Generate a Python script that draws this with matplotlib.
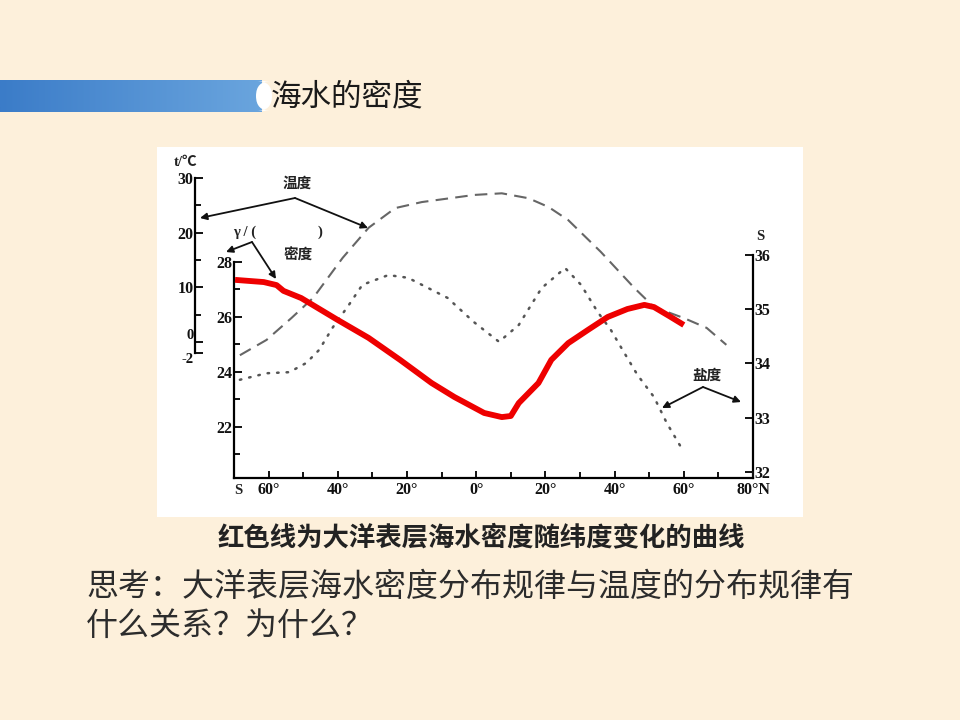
import numpy as np
import matplotlib.pyplot as plt
from matplotlib.patches import Rectangle, FancyBboxPatch
from matplotlib.colors import LinearSegmentedColormap
from matplotlib.ticker import FixedLocator

plt.rcParams['font.family'] = ['Noto Sans CJK SC', 'DejaVu Sans']

# Data (latitude in degrees, S negative)

dens_lat = [-69.7, -61.4, -57.7, -55.7, -50.6, -40.0, -31.1, -22.0, -12.9, -6.3,
            2.3, 7.4, 10.0, 12.3, 18.0, 21.7, 26.6, 32.3, 38.0, 43.7,
            48.6, 51.4, 55.7, 60.0]
dens_val = [27.35, 27.27, 27.16, 26.95, 26.69, 25.89, 25.24, 24.44, 23.60, 23.09,
            22.51, 22.36, 22.40, 22.87, 23.60, 24.44, 25.05, 25.53, 26.00, 26.29,
            26.44, 26.36, 26.04, 25.71]

temp_lat = [-68.3, -60.6, -53.4, -47.1, -38.6, -31.1, -23.4, -15.7, -0.6, 7.4,
            15.1, 20.9, 26.6, 36.0, 45.7, 51.4, 60.0, 66.6, 72.3]
temp_val = [-2.4, 0.4, 4.4, 8.1, 15.4, 20.9, 24.5, 25.6, 26.9, 27.2,
            26.3, 24.7, 22.3, 16.5, 9.9, 6.4, 4.4, 2.6, -0.5]

sal_lat = [-68.3, -60.6, -54.0, -49.1, -45.4, -41.4, -36.9, -32.9, -25.4, -19.7,
           -8.3, -0.6, 6.6, 12.3, 18.9, 25.7, 30.3, 35.1, 38.9, 42.3,
           46.6, 51.4, 55.1, 60.0]
sal_val = [33.70, 33.82, 33.84, 34.01, 34.25, 34.67, 35.07, 35.45, 35.63, 35.58,
           35.21, 34.76, 34.40, 34.71, 35.39, 35.76, 35.45, 34.95, 34.62, 34.25,
           33.79, 33.38, 32.90, 32.37]

x_ticks = [-60, -40, -20, 0, 20, 40, 60, 80]
x_labels = ["60°", "40°", "20°", "0°", "20°", "40°", "60°", "80°N"]
dens_ticks = [22, 24, 26, 28]
temp_ticks = [-2, 0, 10, 20, 30]
sal_ticks = [32, 33, 34, 35, 36]

title = "海水的密度"
caption = "红色线为大洋表层海水密度随纬度变化的曲线"
question = ["思考：大洋表层海水密度分布规律与温度的分布规律有", "什么关系？为什么？"]

W, H = 960, 720
bg = "#fdf0db"
fig = plt.figure(figsize=(W / 100, H / 100), dpi=100, facecolor=bg)

# Decoration layer in pixel coordinates
deco = fig.add_axes([0, 0, 1, 1], zorder=0)
deco.set_xlim(0, W)
deco.set_ylim(H, 0)
deco.axis("off")

grad = np.linspace(0, 1, 256).reshape(1, -1)
blue_cmap = LinearSegmentedColormap.from_list("bar", ["#3b7cc8", "#6aa5de"])
deco.imshow(grad, cmap=blue_cmap, extent=(0, 262, 112, 80), aspect="auto", zorder=1)
deco.add_patch(FancyBboxPatch((256, 81), 16, 30, boxstyle="round,pad=0,rounding_size=15",
                              fc="white", ec="none", zorder=2))
deco.text(271, 97, title, fontsize=22, va="center", ha="left", color="#1a1a1a", zorder=3)

deco.add_patch(Rectangle((157, 147), 646, 370, fc="white", ec="none", zorder=1))

deco.text(481, 538, caption, fontsize=19, ha="center", va="center", color="#222222",
          fontweight="bold")
deco.text(86, 587, question[0], fontsize=23, ha="left", va="center", color="#2c2c2c")
deco.text(86, 626, question[1], fontsize=23, ha="left", va="center", color="#2c2c2c")

# Axes geometry (pixels)
ax_l, ax_r, ax_b, ax_t = 234, 753, 478, 170
pos = [ax_l / W, 1 - ax_b / H, (ax_r - ax_l) / W, (ax_b - ax_t) / H]

num_font = dict(family=["Liberation Serif", "DejaVu Serif"], fontweight="bold", fontsize=11.5)

ax = fig.add_axes(pos, zorder=2)
ax.patch.set_alpha(0)
ax.set_xlim(-70, 80)
ax.set_ylim(20.145, 31.345)
for s in ["top", "right"]:
    ax.spines[s].set_visible(False)
ax.spines["left"].set_bounds(20.145, 28)
ax.spines["left"].set_linewidth(1.6)
ax.spines["bottom"].set_linewidth(1.6)
ax.set_xticks(x_ticks)
ax.set_xticklabels(x_labels, **num_font)
ax.xaxis.set_minor_locator(FixedLocator(list(range(-70, 81, 10))))
ax.set_yticks(dens_ticks)
ax.set_yticklabels([str(v) for v in dens_ticks], **num_font)
ax.yaxis.set_minor_locator(FixedLocator([21, 23, 25, 27]))
ax.tick_params(axis="both", which="both", direction="in", colors="#111111", width=1.4)
ax.tick_params(axis="x", which="major", length=5, pad=3)
ax.tick_params(axis="x", which="minor", length=4)
ax.tick_params(axis="y", which="major", length=6, pad=1)
ax.tick_params(axis="y", which="minor", length=4)
ax.plot(dens_lat, dens_val, color="#ee0000", lw=4.2, solid_capstyle="butt",
        solid_joinstyle="round", zorder=5)

axt = ax.twinx()
axt.set_ylim(-24.84, 31.46)
for s in ["top", "right", "bottom"]:
    axt.spines[s].set_visible(False)
axt.spines["left"].set_visible(True)
axt.spines["left"].set_position(("outward", 39 * 0.72))
axt.spines["left"].set_bounds(-2, 30)
axt.spines["left"].set_linewidth(1.6)
axt.yaxis.set_ticks_position("left")
axt.yaxis.set_label_position("left")
axt.set_yticks(temp_ticks)
axt.set_yticklabels([str(v) for v in temp_ticks], **num_font)
axt.yaxis.set_minor_locator(FixedLocator([5, 15, 25]))
axt.tick_params(axis="y", which="both", direction="in", colors="#111111", width=1.4, pad=1)
axt.tick_params(axis="y", which="major", length=6)
axt.tick_params(axis="y", which="minor", length=4)
tl = axt.get_yticklabels()
tl[0].set_va("top")
tl[0].set_fontsize(10.5)
tl[1].set_va("bottom")
tl[1].set_fontsize(10.5)
axt.plot(temp_lat, temp_val, color="#666666", lw=1.5, dashes=(6, 3.5), zorder=3)

axs = ax.twinx()
axs.set_ylim(31.889, 37.567)
for s in ["top", "left", "bottom"]:
    axs.spines[s].set_visible(False)
axs.spines["right"].set_bounds(31.889, 36)
axs.spines["right"].set_linewidth(1.6)
axs.set_yticks(sal_ticks)
axs.set_yticklabels([str(v) for v in sal_ticks], **num_font)
axs.tick_params(axis="y", which="both", direction="in", colors="#111111", width=1.4,
                length=6, pad=1)
axs.plot(sal_lat, sal_val, color="#555555", lw=1.8, linestyle=(0, (0.6, 3.2)),
         dash_capstyle="round", zorder=3)

ax.set_zorder(3)
axs.set_zorder(2)
axt.set_zorder(2)

# Labels and arrows (pixel layer drawn on top)
top = fig.add_axes([0, 0, 1, 1], zorder=4)
top.set_xlim(0, W)
top.set_ylim(H, 0)
top.axis("off")

lab = dict(fontsize=10.5, color="#222222", ha="center", va="center")
serif = ["Liberation Serif", "DejaVu Serif"]
top.text(186, 162, "t/℃", family=["Liberation Serif", "Noto Sans CJK SC"], fontweight="bold", **lab)
top.text(760, 237, "S", family=serif, fontweight="bold", **lab)
top.text(238, 490, "S", family=serif, fontweight="bold", **lab)
top.text(297, 183, "温度", fontweight="bold", **lab)
top.text(298, 255, "密度", fontweight="bold", **lab)
top.text(707, 375, "盐度", fontweight="bold", **lab)
top.text(245, 232, "γ / (", family=serif, fontweight="bold", **lab)
top.text(320, 232, ")", family=serif, fontweight="bold", **lab)

arrow = dict(arrowstyle="-|>", color="#111111", lw=1.3, mutation_scale=10, shrinkA=0, shrinkB=0)
for apex, tips in [((295, 198), [(200, 218), (368, 228)]),
                   ((252, 242), [(226, 252), (276, 279)]),
                   ((703, 387), [(662, 408), (741, 402)])]:
    for tip in tips:
        top.annotate("", xy=tip, xytext=apex, arrowprops=arrow)

fig.savefig("out.png", dpi=100, facecolor=bg)
